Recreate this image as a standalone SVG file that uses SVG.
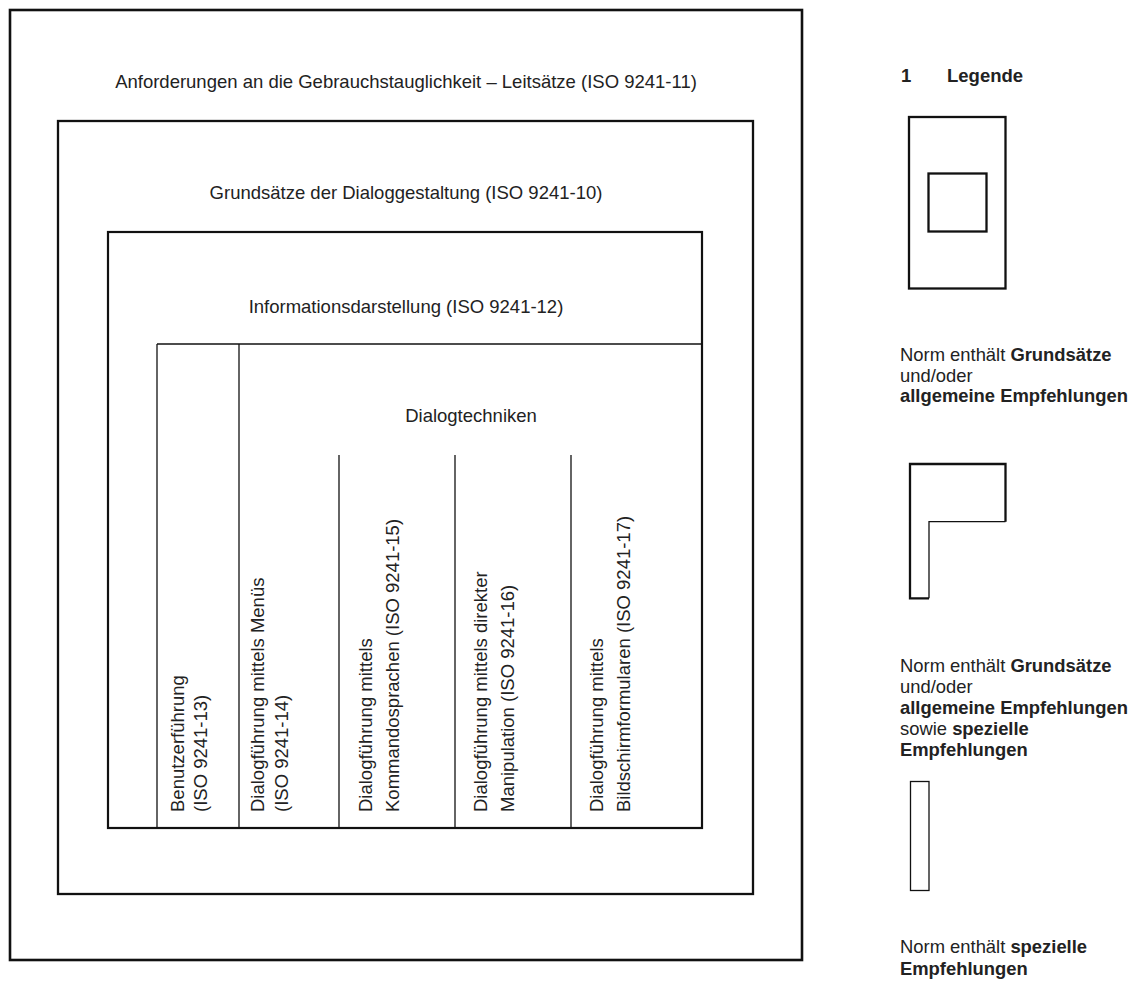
<svg xmlns="http://www.w3.org/2000/svg" width="1141" height="987" viewBox="0 0 1141 987">
<style>
text{font-family:"Liberation Sans",Arial,sans-serif;fill:#222;font-size:18.5px}
.t{text-anchor:middle}
.b{font-weight:bold}
.lg{font-size:18.4px}
.box{fill:none;stroke:#111}
.thin{fill:none;stroke:#111;stroke-width:1.3}
</style>
<rect width="1141" height="987" fill="#fff"/>
<g id="iso9241-11">
<rect class="box" x="10" y="10" width="792" height="950" stroke-width="2.6"/>
<text class="t" x="406" y="88">Anforderungen an die Gebrauchstauglichkeit – Leitsätze (ISO 9241-11)</text>
</g>
<g id="iso9241-10">
<rect class="box" x="58" y="121" width="695" height="773" stroke-width="2.3"/>
<text class="t" x="406" y="199">Grundsätze der Dialoggestaltung (ISO 9241-10)</text>
</g>
<g id="iso9241-12">
<rect class="box" x="108" y="232" width="594" height="596" stroke-width="2.2"/>
<text class="t" x="406" y="313">Informationsdarstellung (ISO 9241-12)</text>
</g>
<g id="lines">
<line class="thin" x1="157" y1="344" x2="702" y2="344"/>
<line class="thin" x1="157" y1="344" x2="157" y2="828"/>
<line class="thin" x1="239" y1="344" x2="239" y2="828"/>
<line class="thin" x1="339" y1="455" x2="339" y2="828"/>
<line class="thin" x1="455" y1="455" x2="455" y2="828"/>
<line class="thin" x1="571" y1="455" x2="571" y2="828"/>
</g>
<g id="dialogtechniken">
<text class="t" x="471" y="422">Dialogtechniken</text>
</g>
<g id="iso9241-13">
<text transform="translate(183.5,812) rotate(-90)">Benutzerführung</text>
<text transform="translate(207,812) rotate(-90)">(ISO 9241-13)</text>
</g>
<g id="iso9241-14">
<text transform="translate(263.5,812) rotate(-90)">Dialogführung mittels Menüs</text>
<text transform="translate(288,812) rotate(-90)">(ISO 9241-14)</text>
</g>
<g id="iso9241-15">
<text transform="translate(372,812) rotate(-90)">Dialogführung mittels</text>
<text transform="translate(399,812) rotate(-90)">Kommandosprachen (ISO 9241-15)</text>
</g>
<g id="iso9241-16">
<text transform="translate(487,812) rotate(-90)">Dialogführung mittels direkter</text>
<text transform="translate(514,812) rotate(-90)">Manipulation (ISO 9241-16)</text>
</g>
<g id="iso9241-17">
<text transform="translate(603,812) rotate(-90)">Dialogführung mittels</text>
<text transform="translate(630,812) rotate(-90)">Bildschirmformularen (ISO 9241-17)</text>
</g>
<g id="legend-title">
<text class="b" x="901" y="82" font-size="16.5">1</text>
<text class="b" x="947" y="82" font-size="16.5">Legende</text>
</g>
<g id="legend-1">
<rect class="box" x="909" y="117" width="96.5" height="171.5" stroke-width="2.3"/>
<rect class="box" x="928.5" y="173.5" width="58" height="58" stroke-width="2.3"/>
<text class="lg" x="900" y="361">Norm enthält <tspan class="b">Grundsätze</tspan></text>
<text class="lg" x="900" y="381.5">und/oder</text>
<text class="lg b" x="900" y="402">allgemeine Empfehlungen</text>
</g>
<g id="legend-2">
<path class="box" stroke-width="2.3" d="M929 598.3 H910 V464 H1005.5 V521.7"/>
<path class="thin" d="M1005.5 521.7 H929 V598.3"/>
<text class="lg" x="900" y="672">Norm enthält <tspan class="b">Grundsätze</tspan></text>
<text class="lg" x="900" y="693">und/oder</text>
<text class="lg b" x="900" y="714">allgemeine Empfehlungen</text>
<text class="lg" x="900" y="735">sowie <tspan class="b">spezielle</tspan></text>
<text class="lg b" x="900" y="756">Empfehlungen</text>
</g>
<g id="legend-3">
<rect class="thin" x="910.5" y="781.5" width="18.5" height="109"/>
<text class="lg" x="900" y="953">Norm enthält <tspan class="b">spezielle</tspan></text>
<text class="lg b" x="900" y="975">Empfehlungen</text>
</g>
</svg>
